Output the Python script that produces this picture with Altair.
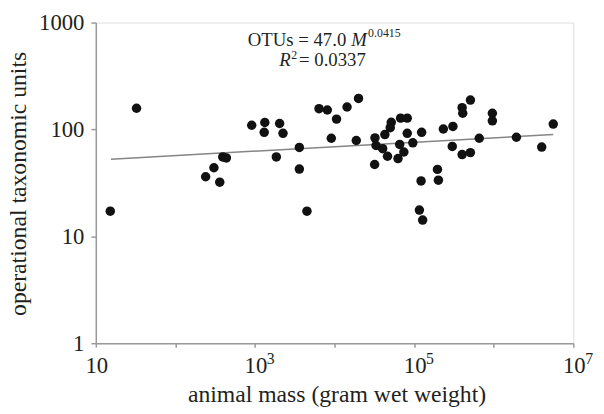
import altair as alt
import pandas as pd

# animal mass (g wet weight) and OTU counts
mass = [15.2, 32.5, 240, 305, 361, 394, 437, 910, 1330, 1306, 2040, 2250, 1855,
        3610, 3610, 4500, 6380, 8110, 10590, 9100, 14360, 20000, 18750, 32200,
        33200, 40200, 31900, 42900, 51600, 50100, 46300, 62700, 67600, 81900,
        81900, 65800, 74300, 96200, 124200, 122200, 196300, 201800, 116400,
        127900, 232800, 307000, 301300, 400900, 509300, 400900, 408300, 509300,
        657700, 961600, 961600, 1927000, 4009000, 5598000]
otus = [17.2, 157.8, 36.1, 43.8, 32.1, 55.3, 54.1, 109.4, 116.2, 94.0, 113.7,
        92.0, 55.3, 67.9, 42.6, 17.2, 156.4, 152.1, 124.9, 82.7, 162.2, 195.0,
        78.8, 83.4, 70.8, 66.1, 47.0, 89.5, 116.7, 103.8, 56.1, 53.4, 127.6,
        127.6, 92.0, 72.4, 61.5, 75.0, 94.0, 33.0, 42.3, 33.5, 17.6, 14.2,
        101.0, 106.7, 69.3, 58.2, 60.7, 159.8, 141.8, 188.2, 82.7, 141.8, 120.4,
        84.5, 68.4, 112.3]

# fitted power law endpoints (OTUs = 47.0 M^0.0415)
fit_mass = [15.5, 5.6e6]
fit_otus = [52.7, 89.6]

x_tick_values = [10, 100, 1000, 1e4, 1e5, 1e6, 1e7]
y_tick_values = [1, 10, 100, 1000]
x_label_values = [10, 1e3, 1e5, 1e7]
x_label_base = ["10", "10", "10", "10"]
x_label_exp = ["", "3", "5", "7"]

FONT = "Liberation Serif"
INK = "#231f20"
AX = "#9a9a9a"

pts = pd.DataFrame({"mass": mass, "otus": otus})
fit = pd.DataFrame({"mass": fit_mass, "otus": fit_otus})
xl = pd.DataFrame({"v": x_label_values, "base": x_label_base, "exp": x_label_exp})

xscale = alt.Scale(type="log", domain=[10, 1e7], nice=False)
yscale = alt.Scale(type="log", domain=[1, 1000], nice=False)

xaxis = alt.Axis(values=x_tick_values, labels=False, grid=False,
                 domainColor=AX, domainWidth=1.5, tickColor=AX, tickWidth=1.5,
                 tickSize=4, title="animal mass (gram wet weight)",
                 titleFont=FONT, titleFontSize=24, titleFontWeight="normal",
                 titleColor=INK, titleX=244, titleY=59,
                 titleBaseline="alphabetic", titleAlign="center")
yaxis = alt.Axis(values=y_tick_values, format="d", grid=False,
                 domainColor=AX, domainWidth=1.5, tickColor=AX, tickWidth=1.5,
                 tickSize=5, labelPadding=7, labelFont=FONT, labelFontSize=23,
                 labelColor=INK, title="operational taxonomic units",
                 titleFont=FONT, titleFontSize=24, titleFontWeight="normal",
                 titleColor=INK, titleX=-71, titleY=163,
                 titleBaseline="alphabetic", titleAlign="center", titleAngle=270)

line = alt.Chart(fit).mark_line(color="#858585", strokeWidth=1.5).encode(
    x=alt.X("mass:Q", scale=xscale, axis=xaxis),
    y=alt.Y("otus:Q", scale=yscale, axis=yaxis),
)

dots = alt.Chart(pts).mark_circle(size=92, color="#111111", opacity=1).encode(
    x=alt.X("mass:Q", scale=xscale),
    y=alt.Y("otus:Q", scale=yscale),
)

base_lab = alt.Chart(xl).mark_text(font=FONT, fontSize=23, color=INK,
                                   align="center", baseline="alphabetic", dx=1).encode(
    x=alt.X("v:Q", scale=xscale), y=alt.value(355), text="base:N")
exp_lab = alt.Chart(xl).mark_text(font=FONT, fontSize=16, color=INK,
                                  align="left", baseline="alphabetic", dx=12).encode(
    x=alt.X("v:Q", scale=xscale), y=alt.value(346), text="exp:N")

def txt(s, x, y, size=19, style="normal"):
    return alt.Chart(pd.DataFrame({"t": [s]})).mark_text(
        font=FONT, fontSize=size, color=INK, align="left",
        baseline="alphabetic", fontStyle=style).encode(
        x=alt.value(x), y=alt.value(y), text="t:N")

ann = (txt("OTUs = 47.0", 154, 24) + txt("M", 259, 24, style="italic")
       + txt("0.0415", 276, 15, size=12)
       + txt("R", 186, 44, style="italic") + txt("2", 198, 37, size=12)
       + txt("= 0.0337", 206, 44))

chart = alt.layer(line, dots, base_lab, exp_lab, ann).properties(
    width=484, height=325,
    autosize=alt.AutoSizeParams(type="none"),
    padding={"left": 89, "top": 12, "right": 23, "bottom": 69},
).configure_view(stroke=None).configure(background="white")

chart.save("out.html", embed_options={"renderer": "svg", "actions": False})
